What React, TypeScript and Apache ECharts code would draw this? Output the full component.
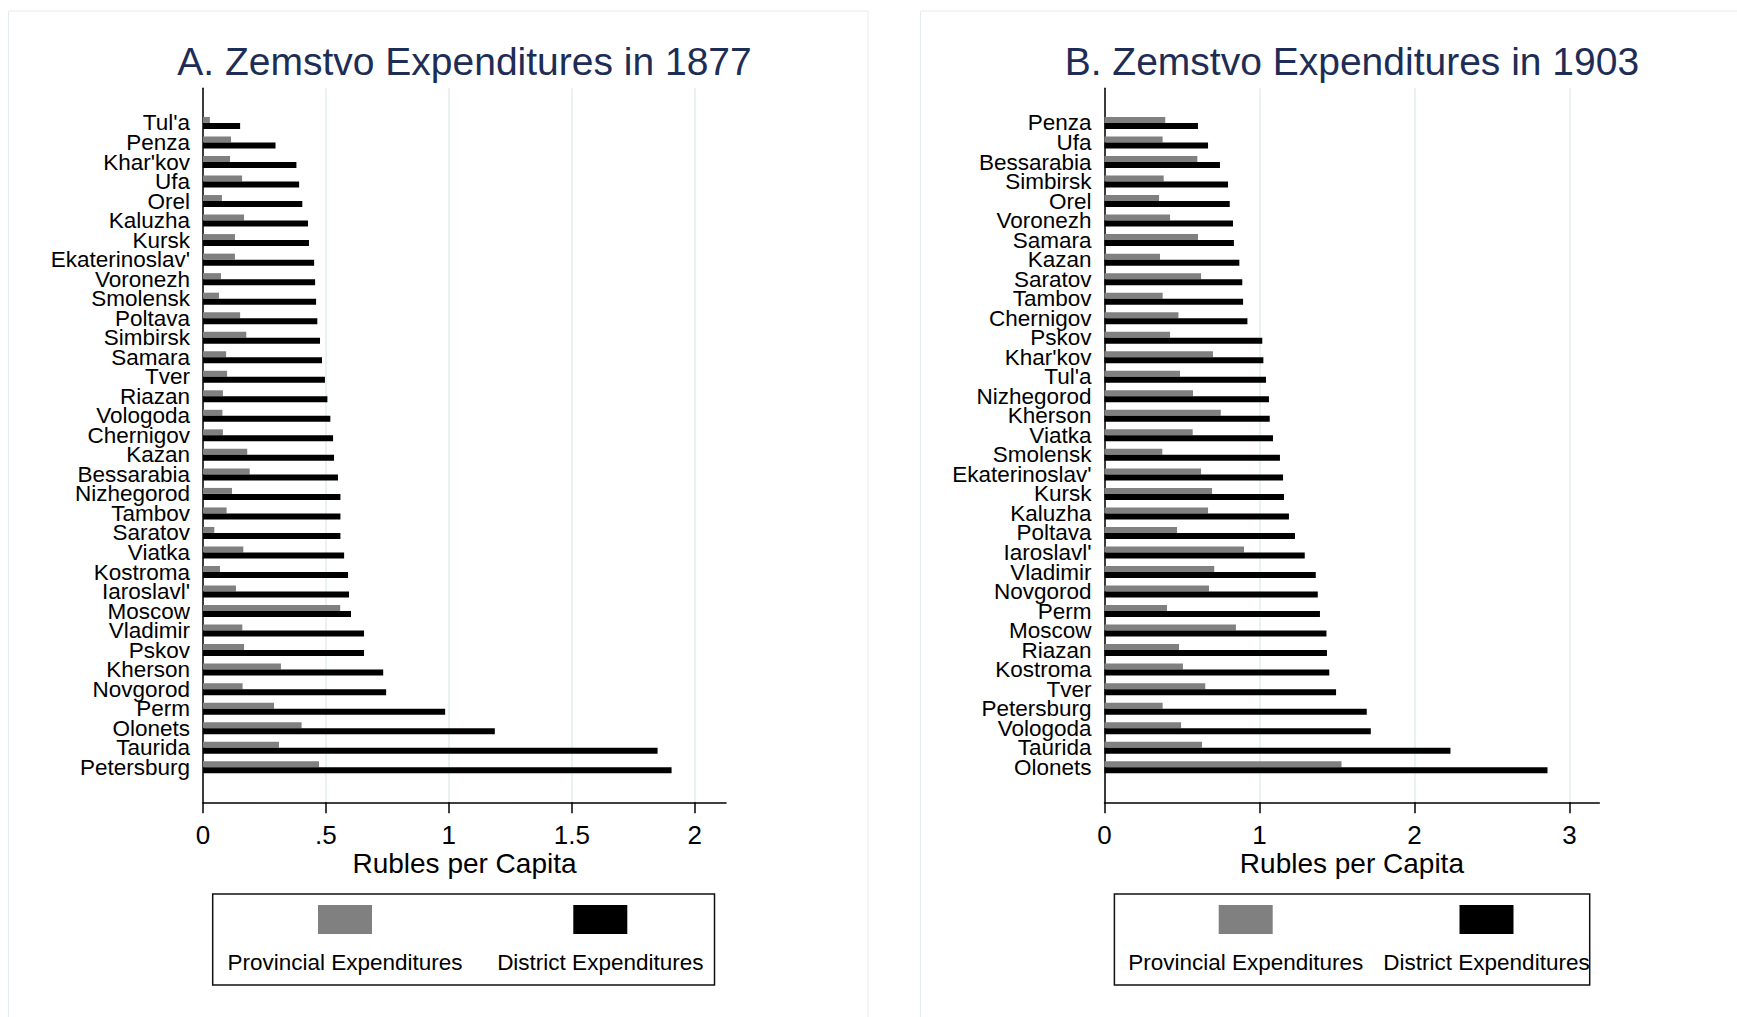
import React, { useEffect, useRef } from "react";
import * as echarts from "echarts";

// ---------- DATA ----------
const titleA = "A. Zemstvo Expenditures in 1877";
const titleB = "B. Zemstvo Expenditures in 1903";
const axisTitle = "Rubles per Capita";
const legendLabels = ["Provincial Expenditures", "District Expenditures"];

const provincesA = [
  "Tul'a", "Penza", "Khar'kov", "Ufa", "Orel", "Kaluzha", "Kursk", "Ekaterinoslav'",
  "Voronezh", "Smolensk", "Poltava", "Simbirsk", "Samara", "Tver", "Riazan", "Vologoda",
  "Chernigov", "Kazan", "Bessarabia", "Nizhegorod", "Tambov", "Saratov", "Viatka",
  "Kostroma", "Iaroslavl'", "Moscow", "Vladimir", "Pskov", "Kherson", "Novgorod",
  "Perm", "Olonets", "Taurida", "Petersburg",
];
const provincialA = [
  0.028, 0.114, 0.110, 0.159, 0.077, 0.167, 0.130, 0.130,
  0.073, 0.065, 0.151, 0.176, 0.094, 0.098, 0.081, 0.079,
  0.081, 0.180, 0.190, 0.118, 0.096, 0.046, 0.164,
  0.069, 0.134, 0.558, 0.160, 0.167, 0.317, 0.161,
  0.289, 0.401, 0.309, 0.472,
];
const districtA = [
  0.151, 0.295, 0.380, 0.391, 0.404, 0.427, 0.431, 0.452,
  0.456, 0.460, 0.465, 0.476, 0.484, 0.496, 0.506, 0.518,
  0.529, 0.533, 0.549, 0.559, 0.559, 0.559, 0.574,
  0.590, 0.594, 0.602, 0.655, 0.655, 0.733, 0.745,
  0.985, 1.187, 1.849, 1.906,
];
const ticksA = [0, 0.5, 1, 1.5, 2];

const provincesB = [
  "Penza", "Ufa", "Bessarabia", "Simbirsk", "Orel", "Voronezh", "Samara", "Kazan",
  "Saratov", "Tambov", "Chernigov", "Pskov", "Khar'kov", "Tul'a", "Nizhegorod", "Kherson",
  "Viatka", "Smolensk", "Ekaterinoslav'", "Kursk", "Kaluzha", "Poltava", "Iaroslavl'",
  "Vladimir", "Novgorod", "Perm", "Moscow", "Riazan", "Kostroma", "Tver", "Petersburg",
  "Vologoda", "Taurida", "Olonets",
];
const provincialB = [
  0.392, 0.375, 0.599, 0.382, 0.352, 0.423, 0.603, 0.358,
  0.623, 0.375, 0.477, 0.423, 0.700, 0.487, 0.571, 0.750,
  0.569, 0.373, 0.623, 0.694, 0.668, 0.468, 0.900,
  0.708, 0.674, 0.403, 0.848, 0.481, 0.506, 0.650, 0.375,
  0.494, 0.629, 1.529,
];
const districtB = [
  0.603, 0.668, 0.745, 0.797, 0.808, 0.829, 0.835, 0.870,
  0.889, 0.894, 0.922, 1.018, 1.025, 1.042, 1.061, 1.066,
  1.087, 1.132, 1.152, 1.158, 1.190, 1.229, 1.292,
  1.363, 1.376, 1.390, 1.432, 1.435, 1.450, 1.494, 1.692,
  1.718, 2.232, 2.858,
];
const ticksB = [0, 1, 2, 3];

// ---------- STYLE / LAYOUT ----------
const FONT = "'Liberation Sans', Arial, Helvetica, sans-serif";
const GRAY = "#808080";
const BLACK = "#000000";
const GRID_COLOR = "#e2ecee";
const TITLE_COLOR = "#1e2d55";
const PANEL_BORDER = "#e4ecef";

const plotTop = 88.3;
const axisY = 802.3;
const barsTop = 113.2;
const barsHeight = 663.8;

const panels = [
  { left: 203, frameWidth: 523, tickWidth: 491.7, tickMax: 2, interval: 0.5,
    cats: provincesA, prov: provincialA, dist: districtA, ticks: ticksA, title: titleA,
    legend: { x: 212.7, w: 501.8, col1: 345, col2: 600.3 } },
  { left: 1104.5, frameWidth: 494.8, tickWidth: 465, tickMax: 3, interval: 1,
    cats: provincesB, prov: provincialB, dist: districtB, ticks: ticksB, title: titleB,
    legend: { x: 1114.4, w: 475.3, col1: 1245.7, col2: 1486.5 } },
];

const fmtTick = (v: number) => {
  if (v === 0) return "0";
  const s = String(v);
  return s.startsWith("0.") ? s.slice(1) : s;
};

export default function App() {
  const ref = useRef<HTMLDivElement>(null);

  useEffect(() => {
    if (!ref.current) return;
    const chart = echarts.init(ref.current, null, { renderer: "svg" });

    const grid: any[] = [];
    const xAxis: any[] = [];
    const yAxis: any[] = [];
    const series: any[] = [];
    const graphic: any[] = [];

    panels.forEach((p, pi) => {
      const base = grid.length;
      // frame grid: axis lines + axis title
      grid.push({ left: p.left, top: plotTop, width: p.frameWidth, height: axisY - plotTop });
      // tick grid: ticks, labels, grid lines
      grid.push({ left: p.left, top: plotTop, width: p.tickWidth, height: axisY - plotTop });
      // bar grid
      grid.push({ left: p.left, top: barsTop, width: p.tickWidth, height: barsHeight });

      xAxis.push({
        gridIndex: base, type: "value", min: 0, max: 1,
        axisLine: { show: true, onZero: false, lineStyle: { color: BLACK, width: 1.5 } },
        axisTick: { show: false }, axisLabel: { show: false }, splitLine: { show: false },
        name: axisTitle, nameLocation: "middle", nameGap: 47,
        nameTextStyle: { fontSize: 28, color: BLACK, fontFamily: FONT },
      });
      yAxis.push({
        gridIndex: base, type: "value", min: 0, max: 1,
        axisLine: { show: true, onZero: false, lineStyle: { color: BLACK, width: 1.5 } },
        axisTick: { show: false }, axisLabel: { show: false }, splitLine: { show: false },
      });

      xAxis.push({
        gridIndex: base + 1, type: "value", min: 0, max: p.tickMax, interval: p.interval,
        axisLine: { show: false },
        axisTick: { show: true, length: 11, lineStyle: { color: BLACK, width: 1.5 } },
        axisLabel: {
          show: true, fontSize: 26, color: BLACK, fontFamily: FONT, margin: 20,
          formatter: (v: number) => (p.ticks.includes(v) ? fmtTick(v) : ""),
        },
        splitLine: { show: true, lineStyle: { color: GRID_COLOR, width: 1.5 } },
      });
      yAxis.push({ gridIndex: base + 1, type: "value", show: false });

      xAxis.push({ gridIndex: base + 2, type: "value", min: 0, max: p.tickMax, show: false });
      yAxis.push({
        gridIndex: base + 2, type: "category", data: p.cats, inverse: true,
        axisLine: { show: false }, axisTick: { show: false }, splitLine: { show: false },
        axisLabel: { interval: 0, fontSize: 22.5, color: BLACK, fontFamily: FONT, margin: 13 },
      });

      series.push({
        type: "bar", name: legendLabels[0], xAxisIndex: base + 2, yAxisIndex: base + 2,
        data: p.prov, barWidth: 6, barGap: "0%", itemStyle: { color: GRAY },
      });
      series.push({
        type: "bar", name: legendLabels[1], xAxisIndex: base + 2, yAxisIndex: base + 2,
        data: p.dist, barWidth: 6, barGap: "0%", itemStyle: { color: BLACK },
      });

      // panel frame
      graphic.push({
        type: "rect", silent: true,
        shape: pi === 0 ? { x: 8.5, y: 11, width: 859.5, height: 1100 } : { x: 920.5, y: 11, width: 900, height: 1100 },
        style: { fill: "none", stroke: PANEL_BORDER, lineWidth: 1 },
      });
      // title
      graphic.push({
        type: "text", silent: true,
        style: {
          text: p.title, x: p.left + p.frameWidth / 2, y: 61, textAlign: "center", textVerticalAlign: "middle",
          fontSize: 39, fontFamily: FONT, fill: TITLE_COLOR,
        },
      });
      // legend
      const L = p.legend;
      graphic.push({
        type: "rect", silent: true,
        shape: { x: L.x, y: 894, width: L.w, height: 91 },
        style: { fill: "#ffffff", stroke: "#111111", lineWidth: 1.5 },
      });
      [L.col1, L.col2].forEach((cx, ci) => {
        graphic.push({
          type: "rect", silent: true,
          shape: { x: cx - 27, y: 905, width: 54, height: 29 },
          style: { fill: ci === 0 ? GRAY : BLACK },
        });
        graphic.push({
          type: "text", silent: true,
          style: {
            text: legendLabels[ci], x: cx, y: 962, textAlign: "center", textVerticalAlign: "middle",
            fontSize: 22.5, fontFamily: FONT, fill: BLACK,
          },
        });
      });
    });

    chart.setOption({
      animation: false,
      backgroundColor: "#ffffff",
      grid, xAxis, yAxis, series, graphic,
    });

    return () => chart.dispose();
  }, []);

  return (
    <div
      ref={ref}
      style={{ position: "absolute", left: 0, top: 0, width: 1737, height: 1017 }}
    />
  );
}
